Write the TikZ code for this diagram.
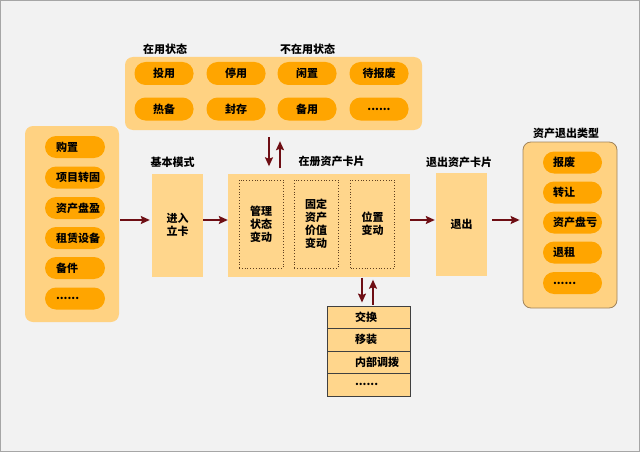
\documentclass[tikz,border=0pt]{standalone}
\usepackage{fontspec}
\setmainfont{Noto Sans CJK SC}
\usetikzlibrary{arrows.meta}
\definecolor{bgcol}{HTML}{F2F2F2}
\definecolor{panelcol}{HTML}{FFD282}
\definecolor{pillcol}{HTML}{FFA500}
\definecolor{boxcol}{HTML}{FFD68C}
\definecolor{arrowcol}{HTML}{6E0E14}
\definecolor{edgecol}{HTML}{A0845C}
\tikzset{
  panel/.style={fill=panelcol,rounded corners=8pt,inner sep=0pt},
  pill/.style={fill=pillcol,rounded corners=11pt,minimum width=59pt,minimum height=23pt,inner sep=0pt},
  lpill/.style={pill,text width=38pt,inner xsep=11pt,align=left,minimum height=22pt},
  rpill/.style={pill,text width=39pt,inner xsep=10pt,align=left,minimum height=22pt},
  cardbox/.style={fill=boxcol,minimum width=51pt,minimum height=103pt,align=center,inner sep=0pt},
  dotbox/.style={draw=brown!50!black,dotted,thick,minimum width=44pt,minimum height=88pt,align=center,inner sep=0pt},
  rowbox/.style={draw=black!75,fill=boxcol,text width=27pt,inner xsep=28pt,minimum height=22.5pt,inner ysep=0pt,align=left},
  arr/.style={draw=arrowcol,line width=1.5pt,-{Stealth[length=9pt,width=8pt,inset=1.5pt]}}
}
\begin{document}
\begin{tikzpicture}[x=1pt,y=-1pt,font=\fontsize{11}{13}\selectfont\bfseries]
\useasboundingbox (0,0) rectangle (640,452);
\fill[bgcol] (0,0) rectangle (640,452);
\draw[black!35,line width=2pt] (0,0) rectangle (640,452);

% states on top
\path (273.5,93.5) node[panel,minimum width=297pt,minimum height=73pt](States){}
  (165,49) node(InUse){在用状态} (307.5,49) node(NotInUse){不在用状态}
  (164,73.5) node[pill](Use){投用} (236,73.5) node[pill](Stop){停用}
  (307,73.5) node[pill](Idle){闲置} (379,73.5) node[pill](ToScrap){待报废}
  (164,109) node[pill](Standby){热备} (236,109) node[pill](Sealed){封存}
  (307,109) node[pill](Spare){备用} (379,109) node[pill](MoreState){......};

% sources on the left
\path (72,224) node[panel,minimum width=94pt,minimum height=196pt](Sources){}
  (75,147) node[lpill](Buy){购置} (75,177.5) node[lpill](Transfer){项目转固}
  (75,208) node[lpill](Surplus){资产盘盈} (75,238) node[lpill](Lease){租赁设备}
  (75,268) node[lpill](Parts){备件} (75,298.5) node[lpill](MoreIn){......};

% cards
\path (177.5,225) node[cardbox](Enter){进入\\立卡} (172.5,162) node(Basic){基本模式}
  (319,225) node[cardbox,minimum width=182pt](Card){} (331.5,161) node(CardTitle){在册资产卡片}
  (261,224) node[dotbox](Manage){管理\\状态\\变动}
  (316,224) node[dotbox](Value){固定\\资产\\价值\\变动}
  (372.5,224) node[dotbox](Place){位置\\变动}
  (461.5,224) node[cardbox](Quit){退出} (459,162) node(QuitTitle){退出资产卡片};

% exit types on the right
\path (570,225) node[panel,draw=edgecol,thick,minimum width=94pt,minimum height=166pt](Exits){}
  (566,133) node(ExitTitle){资产退出类型}
  (572.5,162.5) node[rpill](Scrap){报废} (572.5,192.5) node[rpill](Sell){转让}
  (572.5,222.5) node[rpill](Loss){资产盘亏} (572.5,252.5) node[rpill](Return){退租}
  (572.5,283) node[rpill](MoreOut){......};

% location changes
\path (368.5,317) node[rowbox](Swap){交换} (368.5,339.5) node[rowbox](Move){移装}
  (368.5,362) node[rowbox](Allot){内部调拨} (368.5,384.5) node[rowbox](MoreMove){......};

\coordinate (MidY) at (0,220);
\coordinate (DownA) at (269,0); \coordinate (UpA) at (280,0);
\coordinate (DownB) at (362,0); \coordinate (UpB) at (373,0);
\draw[arr,shorten <=1pt,shorten >=2pt] (Sources.east |- MidY) -- (Enter.west |- MidY);
\draw[arr] (Enter.east |- MidY) -- (Card.west |- MidY);
\draw[arr,shorten >=1pt] (Card.east |- MidY) -- (Quit.west |- MidY);
\draw[arr,shorten <=5pt,shorten >=3pt] (Quit.east |- MidY) -- (Exits.west |- MidY);
\draw[arr,shorten <=7pt,shorten >=7pt] (States.south -| DownA) -- (Card.north -| DownA);
\draw[arr,shorten <=5pt,shorten >=11pt] (Card.north -| UpA) -- (States.south -| UpA);
\draw[arr,shorten <=1pt,shorten >=3pt] (Card.south -| DownB) -- (Swap.north -| DownB);
\draw[arr,shorten <=1pt,shorten >=3pt] (Swap.north -| UpB) -- (Card.south -| UpB);
\end{tikzpicture}
\end{document}
